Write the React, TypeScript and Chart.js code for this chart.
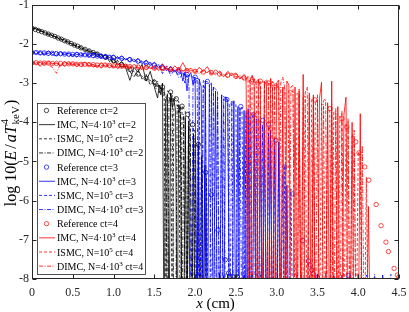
import React, { useEffect, useRef } from 'react';
import { Chart, registerables } from 'chart.js';

Chart.register(...registerables);

const SERIF = "'Liberation Serif', 'Times New Roman', Times, serif";
const AXIS_COLOR = '#262626';

const xTicks = [0, 0.5, 1, 1.5, 2, 2.5, 3, 3.5, 4, 4.5];
const yTicks = [-8, -7, -6, -5, -4, -3, -2, -1];

const legendLabels = [
  'Reference ct=2',
  'IMC, N=4·10^3 ct=2',
  'ISMC, N=10^5 ct=2',
  'DIMC, N=4·10^3 ct=2',
  'Reference ct=3',
  'IMC, N=4·10^3 ct=3',
  'ISMC, N=10^5 ct=3',
  'DIMC, N=4·10^3 ct=3',
  'Reference ct=4',
  'IMC, N=4·10^3 ct=4',
  'ISMC, N=10^5 ct=4',
  'DIMC, N=4·10^3 ct=4',
];

const xTitleItalic = 'x';
const xTitleRest = ' (cm)';
const yTitleParts = { pre: 'log 10(', e: 'E', slash: '/', aT: 'aT', sup: '4', sub: 'keV', post: ')' };

// ---------- reference (circles) ----------
const refX2 = [0, 0.04, 0.08, 0.12, 0.16, 0.2, 0.24, 0.28, 0.32, 0.36, 0.4, 0.44, 0.48, 0.52, 0.56, 0.6, 0.65, 0.7, 0.75, 0.8, 0.9, 1.0, 1.1, 1.2, 1.3, 1.4, 1.5, 1.6, 1.7, 1.77, 1.84, 1.91, 1.97, 2.04, 2.13, 2.2, 2.28, 2.37, 2.41, 2.46, 2.52];
const refY2 = [-1.6, -1.63, -1.66, -1.69, -1.72, -1.75, -1.78, -1.81, -1.85, -1.88, -1.92, -1.95, -1.99, -2.03, -2.06, -2.1, -2.14, -2.18, -2.22, -2.26, -2.34, -2.43, -2.53, -2.65, -2.77, -2.88, -2.98, -3.1, -3.23, -3.4, -3.59, -3.8, -4.06, -4.57, -5.28, -5.85, -6.75, -7.51, -7.85, -7.93, -7.95];

const refX3 = [0, 0.05, 0.1, 0.15, 0.2, 0.25, 0.3, 0.35, 0.4, 0.45, 0.5, 0.55, 0.6, 0.65, 0.7, 0.75, 0.8, 0.85, 0.9, 0.95, 1.0, 1.1, 1.2, 1.3, 1.4, 1.5, 1.6, 1.7, 1.8, 1.9, 2.0, 2.15, 2.39, 2.56, 2.72, 2.83, 2.9, 2.99, 3.1, 3.19, 3.32, 3.39, 3.41, 3.43, 3.45, 3.5, 3.88];
const refY3 = [-2.22, -2.22, -2.23, -2.23, -2.24, -2.24, -2.25, -2.25, -2.26, -2.26, -2.27, -2.27, -2.28, -2.28, -2.29, -2.3, -2.31, -2.32, -2.33, -2.34, -2.35, -2.37, -2.4, -2.44, -2.49, -2.54, -2.6, -2.66, -2.72, -2.78, -2.85, -2.96, -3.42, -3.6, -3.81, -3.95, -4.05, -4.46, -5.14, -5.83, -7.02, -7.54, -7.64, -7.77, -7.87, -7.95, -7.91];

const refX4 = [0, 0.05, 0.1, 0.15, 0.2, 0.25, 0.3, 0.35, 0.4, 0.45, 0.5, 0.55, 0.6, 0.65, 0.7, 0.75, 0.8, 0.85, 0.9, 0.95, 1.0, 1.05, 1.1, 1.15, 1.2, 1.3, 1.4, 1.5, 1.6, 1.7, 1.8, 1.9, 2.0, 2.1, 2.2, 2.3, 2.4, 2.5, 2.6, 2.7, 2.8, 2.9, 2.99, 3.47, 3.65, 3.8, 3.86, 3.97, 4.01, 4.08, 4.13, 4.22, 4.28, 4.34, 4.37, 4.44, 4.48, 4.5];
const refY4 = [-2.48, -2.48, -2.49, -2.49, -2.49, -2.5, -2.5, -2.5, -2.51, -2.51, -2.51, -2.52, -2.52, -2.52, -2.53, -2.53, -2.54, -2.54, -2.54, -2.55, -2.56, -2.56, -2.57, -2.57, -2.58, -2.59, -2.6, -2.62, -2.63, -2.65, -2.66, -2.68, -2.7, -2.72, -2.74, -2.77, -2.8, -2.83, -2.87, -2.91, -2.95, -3.0, -3.07, -3.43, -3.65, -3.91, -4.12, -4.5, -4.78, -5.14, -5.48, -6.1, -6.64, -7.06, -7.3, -7.73, -7.9, -7.94];

// ---------- ct=2 Monte Carlo curves ----------
const xGrid2 = [
  0, 0.05, 0.1, 0.15, 0.2, 0.25, 0.3, 0.35, 0.4, 0.45, 0.5, 0.55, 0.6, 0.65, 0.7, 0.75, 0.8, 0.85, 0.9, 0.95, 1, 1.05, 1.1, 1.15, 1.2, 1.25, 1.3, 1.35, 1.4, 1.45, 1.5,
  1.52, 1.54, 1.56, 1.58, 1.6, 1.62, 1.64, 1.66, 1.68, 1.7, 1.72, 1.74, 1.76, 1.78, 1.8, 1.82, 1.84, 1.86, 1.88, 1.9, 1.92, 1.94, 1.96, 1.98, 2, 2.02, 2.04, 2.06, 2.08, 2.1, 2.12, 2.14, 2.16, 2.18, 2.2,
  2.25, 2.3, 2.35, 2.4, 2.45, 2.5, 2.6, 2.7, 2.8, 2.9, 3, 3.2, 4.5,
];
const imc2 = [
  -1.58, -1.62, -1.64, -1.72, -1.73, -1.8, -1.82, -1.9, -1.89, -1.98, -2.0, -2.08, -2.07, -2.17, -2.15, -2.25, -2.22, -2.35, -2.28, -2.45, -2.38, -2.55, -2.45, -2.62, -2.93, -2.6, -2.72, -2.52, -2.95, -2.7, -3.1,
  -3.25, -3.38, -3.05, -3.3, -3.0, -10, -3.45, -3.3, -10, -3.25, -3.6, -3.4, -3.7, -10, -3.55, -3.8, -10, -10, -3.9, -10, -4.1, -10, -10, -4.3, -10, -10, -4.6, -10, -10, -10, -5.1, -10, -10, -10, -10,
  -10, -7.85, -10, -7.88, -10, -10, -7.9, -10, -10, -10, -10, -10, -10,
];
const ismc2 = [
  -1.61, -1.63, -1.67, -1.7, -1.76, -1.78, -1.84, -1.87, -1.93, -1.96, -2.02, -2.05, -2.11, -2.13, -2.19, -2.22, -2.27, -2.29, -2.36, -2.38, -2.45, -2.47, -2.55, -2.58, -2.68, -2.7, -2.8, -2.82, -2.9, -2.93, -3.02,
  -3.05, -3.08, -3.06, -3.12, -3.15, -3.12, -10, -3.2, -3.22, -3.25, -10, -3.35, -3.38, -3.45, -3.47, -10, -3.58, -3.65, -3.72, -10, -3.85, -3.95, -10, -4.15, -4.25, -10, -4.5, -10, -4.85, -10, -10, -5.4, -10, -10, -10,
  -10, -10, -7.9, -10, -10, -7.88, -10, -10, -7.9, -10, -10, -10, -10,
];
const dimc2 = [
  -1.62, -1.6, -1.68, -1.69, -1.78, -1.77, -1.86, -1.85, -1.95, -1.94, -2.04, -2.03, -2.13, -2.12, -2.21, -2.19, -2.3, -2.27, -2.4, -2.33, -2.5, -2.42, -2.6, -2.5, -2.7, -2.85, -2.65, -2.9, -2.78, -3.05, -2.9,
  -3.15, -2.95, -3.25, -3.1, -3.35, -3.2, -3.4, -10, -3.35, -3.5, -3.3, -10, -10, -3.55, -3.75, -3.6, -10, -3.8, -10, -10, -3.95, -4.2, -10, -10, -4.4, -10, -10, -10, -4.9, -10, -10, -10, -10, -10, -10,
  -10, -10, -10, -10, -7.9, -10, -10, -7.88, -10, -10, -10, -10, -10,
];

// ---------- ct=3 Monte Carlo curves ----------
const xGrid3 = [
  0, 0.05, 0.1, 0.15, 0.2, 0.25, 0.3, 0.35, 0.4, 0.45, 0.5, 0.55, 0.6, 0.65, 0.7, 0.75, 0.8, 0.85, 0.9, 0.95, 1, 1.05, 1.1, 1.15, 1.2, 1.25, 1.3, 1.35, 1.4, 1.45, 1.5, 1.55, 1.6, 1.65, 1.7, 1.75, 1.8,
  1.825, 1.85, 1.875, 1.9, 1.925, 1.95, 1.975, 2, 2.025, 2.05, 2.075, 2.1, 2.125, 2.15, 2.175, 2.2, 2.225, 2.25, 2.275, 2.3, 2.325, 2.35, 2.375, 2.4, 2.425, 2.45, 2.475, 2.5, 2.525, 2.55, 2.575, 2.6, 2.625, 2.65, 2.675, 2.7, 2.725, 2.75, 2.775, 2.8, 2.825, 2.85, 2.875, 2.9, 2.925, 2.95, 2.975, 3, 3.025, 3.05, 3.075, 3.1, 3.125, 3.15, 3.175, 3.2,
  3.25, 3.3, 3.4, 3.5, 3.6, 3.7, 3.8, 3.9, 4, 4.1, 4.2, 4.3, 4.4, 4.5,
];
const imc3 = [
  -2.17, -2.26, -2.19, -2.29, -2.18, -2.27, -2.31, -2.2, -2.28, -2.23, -2.32, -2.21, -2.3, -2.24, -2.34, -2.22, -2.31, -2.37, -2.26, -2.35, -2.28, -2.39, -2.31, -2.41, -2.34, -2.46, -2.37, -2.51, -2.41, -2.56, -2.47, -2.61, -2.51, -2.69, -2.57, -2.71, -2.63,
  -2.7, -2.95, -2.72, -3.2, -2.8, -2.75, -3.05, -2.85, -10, -2.9, -3.1, -10, -2.95, -10, -3.05, -3.0, -10, -3.2, -10, -10, -3.3, -10, -3.35, -3.5, -10, -10, -3.45, -10, -3.6, -10, -10, -3.7, -10, -3.65, -10, -10, -3.8, -10, -10, -3.95, -10, -3.9, -10, -10, -4.2, -10, -10, -10, -4.5, -10, -10, -10, -5.6, -10, -10, -10,
  -10, -7.9, -10, -7.88, -10, -10, -7.9, -10, -7.88, -10, -10, -7.9, -10, -10,
];
const ismc3 = [
  -2.21, -2.23, -2.22, -2.25, -2.24, -2.22, -2.26, -2.25, -2.27, -2.25, -2.28, -2.27, -2.29, -2.28, -2.3, -2.29, -2.32, -2.31, -2.34, -2.33, -2.36, -2.35, -2.38, -2.39, -2.41, -2.42, -2.45, -2.46, -2.5, -2.51, -2.55, -2.57, -2.61, -2.62, -2.67, -2.69, -2.73,
  -2.75, -2.76, -2.78, -2.8, -2.81, -2.83, -2.85, -2.86, -2.88, -2.9, -10, -2.93, -2.95, -2.97, -3.02, -10, -3.1, -3.15, -3.2, -10, -3.3, -3.35, -3.38, -3.42, -10, -3.47, -3.5, -3.53, -10, -3.6, -3.63, -10, -3.7, -3.73, -10, -3.79, -3.82, -10, -3.9, -3.93, -10, -4.0, -10, -4.1, -4.22, -10, -4.4, -10, -4.65, -10, -10, -5.1, -10, -10, -5.7, -10,
  -10, -10, -7.9, -10, -10, -7.88, -10, -10, -10, -7.9, -10, -10, -7.88, -10,
];
const dimc3 = [
  -2.26, -2.18, -2.28, -2.2, -2.3, -2.22, -2.19, -2.31, -2.23, -2.33, -2.25, -2.34, -2.23, -2.32, -2.26, -2.36, -2.27, -2.25, -2.38, -2.29, -2.41, -2.32, -2.44, -2.35, -2.47, -2.38, -2.51, -2.42, -2.57, -2.46, -2.63, -2.51, -2.76, -2.56, -2.81, -2.65, -2.86,
  -2.85, -2.7, -3.0, -2.78, -3.1, -10, -2.9, -3.0, -2.88, -10, -10, -3.05, -3.15, -10, -10, -3.25, -3.1, -10, -3.3, -10, -10, -3.4, -10, -10, -3.55, -3.45, -10, -10, -10, -3.65, -10, -10, -3.75, -10, -3.85, -10, -10, -3.9, -10, -10, -4.05, -10, -10, -4.3, -10, -10, -4.7, -10, -10, -10, -5.3, -10, -10, -10, -10, -10,
  -7.9, -10, -10, -10, -7.85, -10, -10, -7.9, -10, -10, -7.88, -10, -10, -7.9,
];

// ---------- ct=4 Monte Carlo curves ----------
const xGrid4 = [
  0, 0.05, 0.1, 0.15, 0.2, 0.25, 0.3, 0.35, 0.4, 0.45, 0.5, 0.55, 0.6, 0.65, 0.7, 0.75, 0.8, 0.85, 0.9, 0.95, 1, 1.05, 1.1, 1.15, 1.2, 1.25, 1.3, 1.35, 1.4, 1.45, 1.5, 1.55, 1.6, 1.65, 1.7, 1.75, 1.8, 1.85, 1.9, 1.95, 2, 2.05, 2.1, 2.15, 2.2, 2.25, 2.3, 2.35, 2.4, 2.45, 2.5, 2.55, 2.6,
  2.625, 2.65, 2.675, 2.7, 2.725, 2.75, 2.775, 2.8, 2.825, 2.85, 2.875, 2.9, 2.925, 2.95, 2.975, 3, 3.025, 3.05, 3.075, 3.1, 3.125, 3.15, 3.175, 3.2, 3.225, 3.25, 3.275, 3.3, 3.325, 3.35, 3.375, 3.4, 3.425, 3.45, 3.475, 3.5, 3.525, 3.55, 3.575, 3.6, 3.625, 3.65, 3.675, 3.7, 3.725, 3.75, 3.775, 3.8, 3.825, 3.85, 3.875, 3.9, 3.925, 3.95, 3.975, 4, 4.025, 4.05, 4.075, 4.1, 4.125, 4.15, 4.175, 4.2,
  4.3, 4.4, 4.5,
];
const imc4 = [
  -2.45, -2.52, -2.47, -2.55, -2.44, -2.51, -2.49, -2.56, -2.46, -2.53, -2.48, -2.58, -2.5, -2.47, -2.56, -2.52, -2.6, -2.49, -2.57, -2.53, -2.61, -2.5, -2.58, -2.55, -2.63, -2.52, -2.6, -2.66, -2.55, -2.62, -2.58, -2.68, -2.52, -2.64, -2.7, -2.56, -2.66, -2.48, -2.68, -2.62, -2.74, -2.6, -2.7, -2.58, -2.78, -2.66, -2.75, -2.84, -2.7, -2.8, -2.74, -2.9, -2.78,
  -2.85, -10, -2.95, -2.8, -3.05, -10, -2.9, -3.1, -10, -2.95, -3.05, -10, -2.88, -3.15, -10, -3.0, -2.92, -10, -3.1, -10, -2.95, -3.05, -10, -10, -3.1, -10, -3.2, -10, -2.78, -10, -10, -3.25, -10, -3.3, -10, -10, -3.4, -2.98, -10, -10, -3.5, -10, -2.95, -10, -10, -3.6, -10, -10, -3.8, -3.36, -10, -10, -4.0, -10, -10, -10, -3.78, -10, -10, -10, -6.15, -10, -10, -10,
  -10, -10, -10,
];
const ismc4 = [
  -2.48, -2.49, -2.47, -2.5, -2.49, -2.51, -2.5, -2.52, -2.51, -2.5, -2.53, -2.52, -2.54, -2.53, -2.55, -2.54, -2.56, -2.55, -2.57, -2.56, -2.58, -2.57, -2.59, -2.58, -2.6, -2.59, -2.61, -2.62, -2.61, -2.63, -2.62, -2.64, -2.65, -2.64, -2.66, -2.67, -2.66, -2.68, -2.69, -2.68, -2.7, -2.72, -2.71, -2.73, -2.75, -2.74, -2.77, -2.79, -2.78, -2.81, -2.83, -2.85, -2.86,
  -2.88, -2.89, -10, -2.91, -2.92, -2.93, -10, -2.95, -2.97, -2.98, -10, -3.0, -3.02, -10, -3.05, -3.07, -3.08, -10, -3.12, -3.14, -10, -3.18, -3.2, -3.22, -10, -3.26, -3.28, -10, -3.32, -3.34, -10, -3.38, -3.4, -10, -3.44, -3.47, -10, -3.53, -3.56, -10, -3.62, -3.65, -10, -3.72, -3.76, -10, -3.84, -3.9, -10, -4.05, -4.12, -10, -4.3, -4.4, -10, -4.75, -4.9, -10, -10, -5.4, -10, -10, -10, -10,
  -10, -10, -10,
];
const dimc4 = [
  -2.55, -2.46, -2.58, -2.47, -2.53, -2.6, -2.75, -2.5, -2.57, -2.45, -2.55, -2.49, -2.59, -2.52, -2.48, -2.6, -2.53, -2.62, -2.5, -2.61, -2.54, -2.64, -2.52, -2.62, -2.56, -2.65, -2.55, -2.58, -2.67, -2.56, -2.66, -2.59, -2.7, -2.58, -2.62, -2.72, -2.6, -2.7, -2.63, -2.74, -2.65, -2.76, -2.68, -2.72, -2.66, -2.8, -2.7, -2.78, -2.86, -2.74, -2.88, -2.8, -2.92,
  -2.95, -2.82, -3.0, -10, -2.88, -3.05, -2.92, -10, -10, -3.0, -2.9, -3.1, -10, -2.96, -3.05, -10, -10, -3.0, -2.85, -3.15, -10, -10, -3.1, -3.05, -10, -10, -3.15, -10, -10, -3.25, -3.1, -10, -10, -3.35, -10, -3.3, -10, -10, -3.45, -3.4, -10, -10, -3.55, -10, -3.65, -10, -10, -3.7, -10, -10, -3.9, -10, -10, -4.2, -10, -10, -10, -4.6, -10, -10, -10, -10, -10, -10,
  -10, -10, -10,
];

const BLACK = '#000000';
const BLUE = '#0000ff';
const RED = '#ff0000';
const DASH: number[] = [3, 2];
const DASHDOT: number[] = [4, 1.5, 1, 1.5];

const pts = (xs: number[], ys: number[]) => xs.map((x, i) => ({ x, y: ys[i] }));

type Spec = { kind: 'marker' | 'line'; color: string; dash: number[] };

const specs: Spec[] = [
  { kind: 'marker', color: BLACK, dash: [] },
  { kind: 'line', color: BLACK, dash: [] },
  { kind: 'line', color: BLACK, dash: DASH },
  { kind: 'line', color: BLACK, dash: DASHDOT },
  { kind: 'marker', color: BLUE, dash: [] },
  { kind: 'line', color: BLUE, dash: [] },
  { kind: 'line', color: BLUE, dash: DASH },
  { kind: 'line', color: BLUE, dash: DASHDOT },
  { kind: 'marker', color: RED, dash: [] },
  { kind: 'line', color: RED, dash: [] },
  { kind: 'line', color: RED, dash: DASH },
  { kind: 'line', color: RED, dash: DASHDOT },
];

const seriesData = [
  pts(refX2, refY2), pts(xGrid2, imc2), pts(xGrid2, ismc2), pts(xGrid2, dimc2),
  pts(refX3, refY3), pts(xGrid3, imc3), pts(xGrid3, ismc3), pts(xGrid3, dimc3),
  pts(refX4, refY4), pts(xGrid4, imc4), pts(xGrid4, ismc4), pts(xGrid4, dimc4),
];

function drawRich(ctx: CanvasRenderingContext2D, text: string, x: number, baseline: number, size: number) {
  let cx = x;
  let i = 0;
  while (i < text.length) {
    if (text[i] === '^' && i + 1 < text.length) {
      ctx.font = `${size * 0.7}px ${SERIF}`;
      ctx.fillText(text[i + 1], cx, baseline - size * 0.4);
      cx += ctx.measureText(text[i + 1]).width;
      i += 2;
    } else {
      let j = i;
      while (j < text.length && text[j] !== '^') j++;
      const seg = text.slice(i, j);
      ctx.font = `${size}px ${SERIF}`;
      ctx.fillText(seg, cx, baseline);
      cx += ctx.measureText(seg).width;
      i = j;
    }
  }
}

const decorPlugin = {
  id: 'decor',
  afterDatasetsDraw(chart: any) {
    const ctx: CanvasRenderingContext2D = chart.ctx;
    const a = chart.chartArea;
    const xs = chart.scales.x;
    const ys = chart.scales.y;
    ctx.save();
    ctx.setLineDash([]);
    ctx.strokeStyle = AXIS_COLOR;
    ctx.lineWidth = 1;
    const L = Math.round(a.left) + 0.5;
    const R = Math.round(a.right) - 0.5;
    const T = Math.round(a.top) + 0.5;
    const B = Math.round(a.bottom) - 0.5;
    ctx.strokeRect(L, T, R - L, B - T);
    const tl = 4;
    ctx.beginPath();
    for (const v of xTicks) {
      const px = Math.round(xs.getPixelForValue(v)) + 0.5;
      ctx.moveTo(px, B); ctx.lineTo(px, B - tl);
      ctx.moveTo(px, T); ctx.lineTo(px, T + tl);
    }
    for (const v of yTicks) {
      const py = Math.round(ys.getPixelForValue(v)) + 0.5;
      ctx.moveTo(L, py); ctx.lineTo(L + tl, py);
      ctx.moveTo(R, py); ctx.lineTo(R - tl, py);
    }
    ctx.stroke();

    const bx = 37.5, by = 103.5, bw = 108, bh = 171;
    ctx.fillStyle = '#ffffff';
    ctx.fillRect(bx, by, bw, bh);
    ctx.strokeStyle = AXIS_COLOR;
    ctx.lineWidth = 0.8;
    ctx.strokeRect(bx, by, bw, bh);
    const rowH = 14.15;
    for (let i = 0; i < legendLabels.length; i++) {
      const cy = by + 7 + i * rowH;
      const s = specs[i];
      ctx.strokeStyle = s.color;
      if (s.kind === 'marker') {
        ctx.setLineDash([]);
        ctx.lineWidth = 0.7;
        ctx.beginPath();
        ctx.arc(46.5, cy, 2.2, 0, Math.PI * 2);
        ctx.stroke();
      } else {
        ctx.setLineDash(s.dash);
        ctx.lineWidth = 0.8;
        ctx.beginPath();
        ctx.moveTo(39, cy);
        ctx.lineTo(55, cy);
        ctx.stroke();
      }
      ctx.setLineDash([]);
      ctx.fillStyle = '#000000';
      ctx.textBaseline = 'alphabetic';
      ctx.textAlign = 'left';
      drawRich(ctx, legendLabels[i], 57, cy + 3.5, 10);
    }
    ctx.restore();
  },
  afterDraw(chart: any) {
    const ctx: CanvasRenderingContext2D = chart.ctx;
    const a = chart.chartArea;
    ctx.save();
    ctx.fillStyle = '#000000';
    ctx.textAlign = 'left';
    ctx.textBaseline = 'alphabetic';
    const fx = 15;
    ctx.font = `italic ${fx}px ${SERIF}`;
    const w1 = ctx.measureText(xTitleItalic).width;
    ctx.font = `${fx}px ${SERIF}`;
    const w2 = ctx.measureText(xTitleRest).width;
    const cx = (a.left + a.right) / 2;
    const x0 = cx - (w1 + w2) / 2;
    ctx.font = `italic ${fx}px ${SERIF}`;
    ctx.fillText(xTitleItalic, x0, 308);
    ctx.font = `${fx}px ${SERIF}`;
    ctx.fillText(xTitleRest, x0 + w1, 308);

    const fs = 16;
    const small = 11;
    const norm = `${fs}px ${SERIF}`;
    const ital = `italic ${fs}px ${SERIF}`;
    const sm = `${small}px ${SERIF}`;
    const p = yTitleParts;
    const gap = 2;
    ctx.font = norm; const wPre = ctx.measureText(p.pre).width;
    ctx.font = ital; const wE = ctx.measureText(p.e).width;
    ctx.font = norm; const wSl = ctx.measureText(p.slash).width;
    ctx.font = ital; const wAT = ctx.measureText(p.aT).width;
    ctx.font = sm; const wSup = ctx.measureText(p.sup).width; const wSub = ctx.measureText(p.sub).width;
    ctx.font = norm; const wPost = ctx.measureText(p.post).width;
    const wSS = Math.max(wSup, wSub);
    const total = wPre + wE + gap + wSl + gap + wAT + 1 + wSS + 1 + wPost;
    ctx.translate(11.5, 153);
    ctx.rotate(-Math.PI / 2);
    const base = 4.5;
    let t = -total / 2;
    ctx.font = norm; ctx.fillText(p.pre, t, base); t += wPre;
    ctx.font = ital; ctx.fillText(p.e, t, base); t += wE + gap;
    ctx.font = norm; ctx.fillText(p.slash, t, base); t += wSl + gap;
    ctx.font = ital; ctx.fillText(p.aT, t, base); t += wAT + 1;
    ctx.font = sm;
    ctx.fillText(p.sup, t, base - 8);
    ctx.fillText(p.sub, t, base + 3);
    t += wSS + 1;
    ctx.font = norm; ctx.fillText(p.post, t, base);
    ctx.restore();
  },
};

export default function App() {
  const ref = useRef<HTMLCanvasElement | null>(null);
  useEffect(() => {
    if (!ref.current) return;
    const datasets = specs.map((s, i) => {
      if (s.kind === 'marker') {
        return {
          label: legendLabels[i],
          data: seriesData[i],
          showLine: false,
          pointStyle: 'circle',
          pointRadius: 2.2,
          pointBorderWidth: 0.7,
          borderColor: s.color,
          backgroundColor: 'rgba(0,0,0,0)',
          pointBackgroundColor: 'rgba(0,0,0,0)',
          order: 12 - i,
        };
      }
      return {
        label: legendLabels[i],
        data: seriesData[i],
        showLine: true,
        pointRadius: 0,
        borderWidth: 0.8,
        borderColor: s.color,
        borderDash: s.dash,
        backgroundColor: s.color,
        fill: false,
        tension: 0,
        order: 12 - i,
      };
    });
    const chart = new Chart(ref.current, {
      type: 'scatter',
      data: { datasets: datasets as any },
      options: {
        animation: false,
        responsive: false,
        events: [],
        layout: { padding: { top: 4, right: 10, left: 0, bottom: 0 } },
        plugins: { legend: { display: false }, tooltip: { enabled: false } },
        scales: {
          x: {
            type: 'linear',
            min: 0,
            max: 4.5,
            ticks: { stepSize: 0.5, padding: 7, color: AXIS_COLOR, font: { family: SERIF, size: 12 } },
            grid: { display: false, drawTicks: false },
            border: { display: false },
            afterFit: (s: any) => { s.height = 33; s.paddingLeft = 0; s.paddingRight = 0; },
          },
          y: {
            type: 'linear',
            min: -8,
            max: -1,
            ticks: { stepSize: 1, padding: 3, color: AXIS_COLOR, font: { family: SERIF, size: 12 } },
            grid: { display: false, drawTicks: false },
            border: { display: false },
            afterFit: (s: any) => { s.width = 32; s.paddingTop = 0; s.paddingBottom = 0; },
          },
        },
      } as any,
      plugins: [decorPlugin],
    });
    return () => chart.destroy();
  }, []);
  return (
    <div style={{ position: 'fixed', left: 0, top: 0, width: 409, height: 312, background: '#fff' }}>
      <canvas ref={ref} width={409} height={312} style={{ display: 'block', width: 409, height: 312 }} />
    </div>
  );
}
